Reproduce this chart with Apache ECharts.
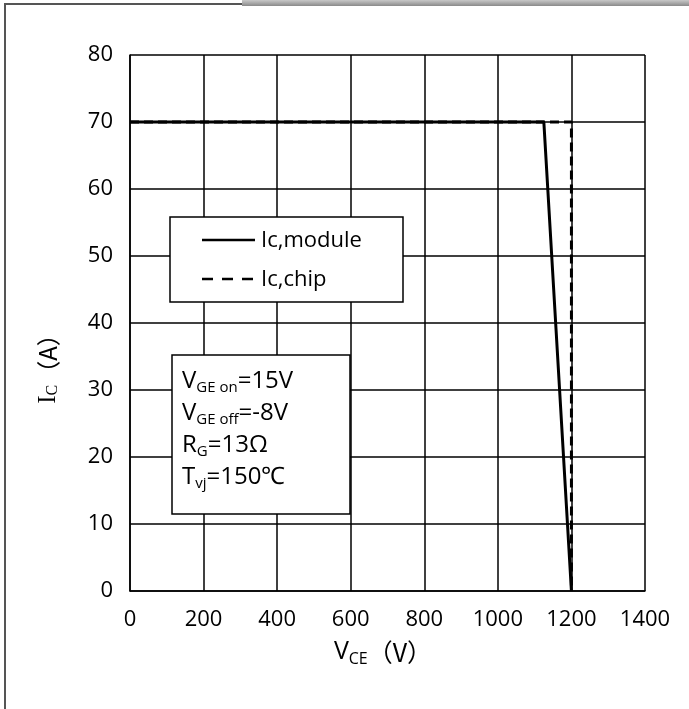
<!DOCTYPE html>
<html><head><meta charset="utf-8">
<script src="https://cdn.jsdelivr.net/npm/echarts@6/dist/echarts.min.js"></script>
<style>html,body{margin:0;padding:0;background:#fff}#c{width:689px;height:709px}</style>
</head><body><div id="c"></div>
<script>
const xTicks = [0, 200, 400, 600, 800, 1000, 1200, 1400];
const yTicks = [0, 10, 20, 30, 40, 50, 60, 70, 80];
const moduleV = [0, 1125, 1200];
const moduleI = [70, 70, 0];
const chipV = [0, 1200, 1200];
const chipI = [70, 70, 0];
const seriesNames = ['Ic,module', 'Ic,chip'];

const chart = echarts.init(document.getElementById('c'));
const F = '"Open Sans", Lato, sans-serif';
chart.setOption({
  animation: false,
  grid: {left: 130, right: 44, top: 55, bottom: 118},
  xAxis: {
    type: 'value', min: xTicks[0], max: xTicks[xTicks.length-1], interval: 200,
    axisLine: {lineStyle: {color: '#000', width: 1.5}},
    axisTick: {show: false},
    splitLine: {lineStyle: {color: '#000', width: 1.5}},
    axisLabel: {color: '#000', fontFamily: F, fontSize: 22, margin: 18, formatter: v => String(v)}
  },
  yAxis: {
    type: 'value', min: yTicks[0], max: yTicks[yTicks.length-1], interval: 10,
    axisLine: {lineStyle: {color: '#000', width: 1.5}},
    axisTick: {show: false},
    splitLine: {lineStyle: {color: '#000', width: 1.5}},
    axisLabel: {color: '#000', fontFamily: F, fontSize: 22, margin: 17, formatter: v => String(v)}
  },
  series: [
    {name: seriesNames[0], type: 'line', symbol: 'none', z: 3, color: '#000',
     lineStyle: {color: '#000', width: 3, type: 'solid'},
     data: moduleV.map((v, i) => [v, moduleI[i]])},
    {name: seriesNames[1], type: 'line', symbol: 'none', z: 2, color: '#000',
     lineStyle: {color: '#000', width: 3, type: [9, 5]},
     data: chipV.map((v, i) => [v, chipI[i]])}
  ],
  graphic: [
    {type: 'line', shape: {x1: 5, y1: 4, x2: 5, y2: 709}, style: {stroke: '#555', lineWidth: 2}},
    {type: 'line', shape: {x1: 4, y1: 4, x2: 242, y2: 4}, style: {stroke: '#555', lineWidth: 2}},
    {type: 'rect', shape: {x: 242, y: 0, width: 447, height: 6},
     style: {fill: new echarts.graphic.LinearGradient(0, 0, 0, 1, [{offset: 0, color: '#c8c8c8'}, {offset: 1, color: '#8a8a8a'}])}},
    // legend
    {type: 'rect', shape: {x: 170, y: 217, width: 233, height: 85}, z: 10,
     style: {fill: '#fff', stroke: '#000', lineWidth: 1.5}},
    {type: 'line', shape: {x1: 202, y1: 240, x2: 255, y2: 240}, z: 11,
     style: {stroke: '#000', lineWidth: 2.5}},
    {type: 'line', shape: {x1: 202, y1: 279, x2: 255, y2: 279}, z: 11,
     style: {stroke: '#000', lineWidth: 2.5, lineDash: [11, 9]}},
    {type: 'text', x: 261, y: 241, z: 11,
     style: {text: seriesNames[0], fill: '#000', font: '22px ' + F, verticalAlign: 'middle'}},
    {type: 'text', x: 261, y: 280, z: 11,
     style: {text: seriesNames[1], fill: '#000', font: '22px ' + F, verticalAlign: 'middle'}},
    // params box
    {type: 'rect', shape: {x: 172, y: 355, width: 178, height: 159}, z: 10,
     style: {fill: '#fff', stroke: '#000', lineWidth: 1.5}},
    {type: 'text', left: 182, top: 368, z: 11,
     style: {
       text: '{v|V}{s|GE on}{v|=15V}\n{v|V}{s|GE off}{v|=-8V}\n{v|R}{s|G}{v|=13Ω}\n{v|T}{s|vj}{v|=150℃}',
       fill: '#000',
       rich: {
         v: {fontFamily: F, fontSize: 24, color: '#000', lineHeight: 32},
         s: {fontFamily: F, fontSize: 15, color: '#000', lineHeight: 32, padding: [12, 0, 0, 0]}
       }
     }},
    {type: 'text', x: 48, y: 363, rotation: Math.PI / 2, z: 11,
     style: {
       text: '{v|I}{s|C}{p|（A）}', align: 'center', verticalAlign: 'middle',
       rich: {
         v: {fontFamily: '"Liberation Serif", serif', fontSize: 25, color: '#000'},
         s: {fontFamily: '"Liberation Serif", serif', fontSize: 16, color: '#000', padding: [10, 0, 0, 0]},
         p: {fontFamily: '"Noto Sans CJK SC", serif', fontSize: 24, color: '#000'}
       }
     }},
    {type: 'text', x: 383, y: 652, z: 11,
     style: {
       text: '{v|V}{s|CE}{p|（V）}', align: 'center', verticalAlign: 'middle',
       rich: {
         v: {fontFamily: F, fontSize: 25, color: '#000'},
         s: {fontFamily: F, fontSize: 16, color: '#000', padding: [14, 0, 0, 0]},
         p: {fontFamily: '"Noto Sans CJK SC", sans-serif', fontSize: 25, color: '#000'}
       }
     }}
  ]
});
</script></body></html>
